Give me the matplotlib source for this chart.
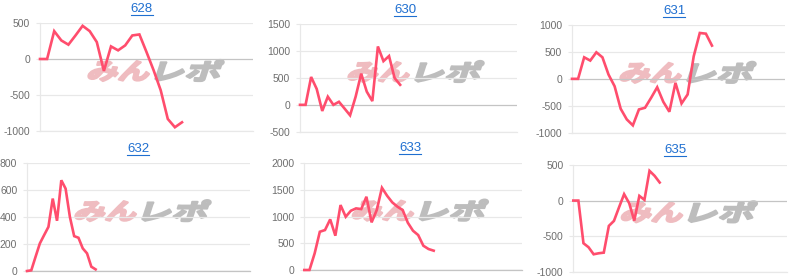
import matplotlib
matplotlib.use("Agg")
import matplotlib.pyplot as plt
import numpy as np
from matplotlib.textpath import TextPath
from matplotlib.font_manager import FontProperties
from matplotlib.patches import PathPatch
from matplotlib.transforms import Affine2D

# machine numbers shown as panel titles
titles = ["628", "630", "631", "632", "633", "635"]

# coin difference per game slot
vals_628 = [0, 0, 387, 258, 199, 327, 461, 387, 235, -166, 175, 120, 189, 327, 341,
            97, -156, -434, -833, -948, -879]
vals_630 = [0, 0, 519, 297, -114, 152, 0, 57, -68, -195, 152, 581, 246, 70, 1087,
            814, 909, 500, 373]
vals_631 = [0, 0, 400, 339, 493, 400, 80, -137, -556, -753, -864, -568, -537, -352,
            -156, -426, -611, -74, -457, -290, 419, 852, 839, 617]
vals_632 = [0, 5, 106, 205, 267, 328, 538, 373, 674, 612, 402, 259, 247, 168, 131, 32, 12]
vals_633 = [0, 0, 312, 717, 749, 949, 643, 1217, 998, 1111, 1155, 1142, 1373, 893, 1124,
            1541, 1391, 1267, 1186, 1124, 886, 736, 655, 455, 393, 362]
vals_635 = [0, 0, -600, -656, -755, -741, -732, -356, -286, -95, 90, -37, -282, 66, 10,
            418, 348, 254]
series = [vals_628, vals_630, vals_631, vals_632, vals_633, vals_635]

# y axis (min, max, step) per panel
y_axes = [(-1000, 500, 500), (-500, 1500, 500), (-1000, 1000, 500),
          (0, 800, 200), (0, 2000, 500), (-1000, 500, 500)]
# number of x slots per panel
x_slots = [30, 39, 35, 52, 42, 42]

# axes boxes in pixels: left, top, right, bottom
boxes = [(40, 23, 253, 131), (300, 24.3, 517, 131.7), (572, 25, 785, 132.7),
         (27, 163.3, 250, 271), (304.3, 163.3, 521.7, 270), (573.3, 165, 786.7, 271.7)]
# title centres in pixels
title_pos = [(141.5, 9), (405, 10), (674, 11), (138, 149), (410, 148), (675, 150)]

W, H = 800, 280
line_color = "#ff4d6d"
grid_color = "#e8e8e8"
zero_color = "#c4c4c4"
label_color = "#6e6e6e"
link_color = "#1f6fd0"

fig = plt.figure(figsize=(W / 100, H / 100), dpi=100)
px = Affine2D().scale(1 / W, 1 / H) + fig.transFigure
jp = FontProperties(family="Noto Sans CJK JP", weight="bold")


def watermark(text, x0, y_top, w, h, color):
    path = TextPath((0, 0), text, size=1, prop=jp)
    ext = path.get_extents()
    tr = (Affine2D().translate(-ext.x0, -ext.y0)
          .scale(w / ext.width, h / ext.height)
          .skew_deg(18, 0)
          .translate(x0 - h * np.tan(np.radians(18)) / 2, H - y_top - h))
    patch = PathPatch(tr.transform_path(path), facecolor=color, edgecolor=color,
                      lw=1.6, joinstyle="round", transform=px, zorder=-5)
    fig.add_artist(patch)


for i, vals in enumerate(series):
    left, top, right, bottom = boxes[i]
    ax = fig.add_axes([left / W, 1 - bottom / H, (right - left) / W, (bottom - top) / H])
    ax.set_facecolor("none")
    ymin, ymax, step = y_axes[i]
    ticks = np.arange(ymin, ymax + step, step)
    for t in ticks:
        ax.axhline(t, color=zero_color if t == 0 else grid_color, lw=0.9, zorder=0)
    ax.plot(np.arange(len(vals)), vals, color=line_color, lw=1.9,
            solid_joinstyle="miter", zorder=3, clip_on=False)
    ax.set_xlim(0, x_slots[i])
    ax.set_ylim(ymin, ymax)
    ax.set_yticks(ticks)
    ax.set_yticklabels([str(t) for t in ticks], family="Liberation Sans")
    ax.set_xticks([])
    ax.tick_params(axis="y", length=3, width=0.8, color=grid_color, pad=4,
                   labelsize=7.5, labelcolor=label_color)
    for s in ["top", "right"]:
        ax.spines[s].set_visible(False)
    ax.spines["left"].set_color(grid_color)
    ax.spines["bottom"].set_color(zero_color if ymin == 0 else grid_color)
    ax.spines["left"].set_linewidth(0.9)
    ax.spines["bottom"].set_linewidth(0.9)

    # watermark logo
    cy = (top + bottom) / 2 - 6
    wx = left + 50
    watermark("みん", wx, cy - 10, 60, 20, "#efbcc0")
    watermark("レポ", wx + 68, cy - 11, 63, 21, "#bdbdbd")

    tx, ty = title_pos[i]
    fig.text(tx / W, 1 - ty / H, titles[i], ha="center", va="center",
             fontsize=9.5, color=link_color, family="Liberation Sans")
    fig.add_artist(plt.Line2D([(tx - 11) / W, (tx + 11) / W],
                              [1 - (ty + 6) / H, 1 - (ty + 6) / H],
                              color=link_color, lw=0.8, transform=fig.transFigure))

fig.savefig("out.png", dpi=100)
